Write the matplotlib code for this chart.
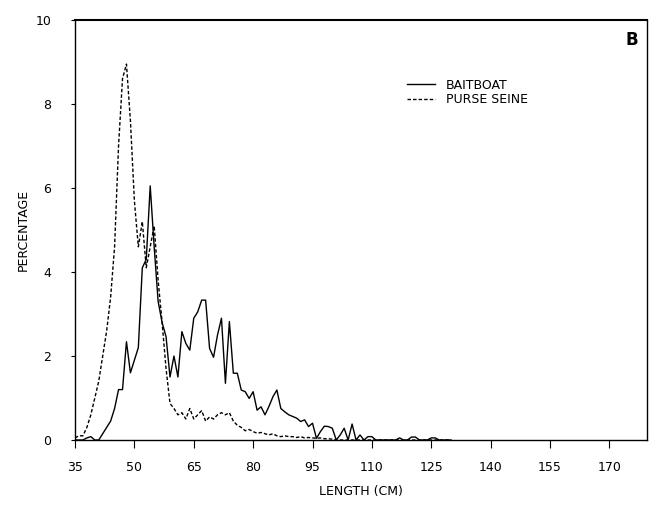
import matplotlib
matplotlib.use("Agg")
import matplotlib.pyplot as plt

length_cm = list(range(35, 131))

baitboat = [0.0, 0.0, 0.0, 0.05, 0.08, 0.0, 0.0, 0.15, 0.3, 0.45,   # 35-44
            0.75, 1.2, 1.2, 2.34, 1.6, 1.9, 2.2, 4.1, 4.3, 6.05,     # 45-54
            4.6, 3.3, 2.8, 2.46, 1.5, 2.0, 1.5, 2.58, 2.3, 2.14,     # 55-64
            2.9, 3.05, 3.33, 3.33, 2.18, 1.97, 2.5, 2.9, 1.35, 2.82, # 65-74
            1.59, 1.59, 1.19, 1.15, 0.99, 1.15, 0.71, 0.79, 0.6, 0.8,# 75-84
            1.03, 1.19, 0.75, 0.67, 0.6, 0.56, 0.52, 0.44, 0.48, 0.32,# 85-94
            0.4, 0.04, 0.2, 0.33, 0.32, 0.28, 0.0, 0.12, 0.28, 0.0,  # 95-104
            0.38, 0.0, 0.12, 0.0, 0.08, 0.08, 0.0, 0.0, 0.0, 0.0,    # 105-114
            0.0, 0.0, 0.05, 0.0, 0.0, 0.07, 0.07, 0.0, 0.0, 0.0,     # 115-124
            0.05, 0.05, 0.0, 0.0, 0.0, 0.0]                          # 125-130

purse_seine = [0.05, 0.1, 0.1, 0.3, 0.6, 1.0, 1.4, 2.0, 2.6, 3.4,    # 35-44
               4.6, 7.0, 8.6, 8.95, 7.6, 5.7, 4.6, 5.2, 4.1, 4.6,    # 45-54
               5.1, 3.8, 2.8, 1.7, 0.87, 0.75, 0.6, 0.65, 0.5, 0.75, # 55-64
               0.5, 0.6, 0.7, 0.45, 0.55, 0.5, 0.6, 0.65, 0.6, 0.65, # 65-74
               0.45, 0.35, 0.3, 0.22, 0.25, 0.2, 0.16, 0.18, 0.15, 0.12,# 75-84
               0.15, 0.1, 0.08, 0.1, 0.08, 0.08, 0.06, 0.08, 0.05, 0.06,# 85-94
               0.05, 0.04, 0.05, 0.03, 0.03, 0.02, 0.0, 0.0, 0.0, 0.0,  # 95-104
               0.0, 0.0, 0.0, 0.0, 0.0, 0.0, 0.0, 0.0, 0.0, 0.0,
               0.0, 0.0, 0.0, 0.0, 0.0, 0.0, 0.0, 0.0, 0.0, 0.0,
               0.0, 0.0, 0.0, 0.0, 0.0, 0.0]

x_ticks = [35, 50, 65, 80, 95, 110, 125, 140, 155, 170]
y_ticks = [0, 2, 4, 6, 8, 10]

plt.rcParams['font.family'] = ['DejaVu Sans']

fig = plt.figure(figsize=(6.49, 5.11), dpi=100)
ax = fig.add_axes([75/649, 1 - 440/511, (647 - 75)/649, (440 - 20)/511])

ax.plot(length_cm, baitboat, color='black', lw=1.0, label='BAITBOAT')
ax.plot(length_cm, purse_seine, color='black', lw=1.0, ls=(0, (2.5, 1.5)),
        label='PURSE SEINE')

ax.set_xlim(35, 179.5)
ax.set_ylim(0, 10)
ax.set_xticks(x_ticks)
ax.set_xticklabels([str(t) for t in x_ticks])
ax.set_yticks(y_ticks)
ax.set_yticklabels([str(t) for t in y_ticks])

ax.tick_params(axis='x', direction='out', length=6, width=0.8, pad=9,
               labelsize=9)
ax.tick_params(axis='y', direction='out', length=3, width=0.8, pad=14,
               labelsize=9)
for s in ax.spines.values():
    s.set_linewidth(1.0)
ax.spines['top'].set_linewidth(1.5)

ax.set_xlabel('LENGTH (CM)', fontsize=9, labelpad=8)
ax.set_ylabel('PERCENTAGE', fontsize=9, labelpad=4)

ax.text(0.985, 0.975, 'B', transform=ax.transAxes, fontsize=12,
        fontweight='bold', ha='right', va='top')

leg = ax.legend(loc='upper left', bbox_to_anchor=(0.57, 0.875), frameon=False,
                fontsize=9, handlelength=2.2, handletextpad=0.9,
                labelspacing=0.1, borderpad=0)

fig.savefig('out.png', dpi=100)
